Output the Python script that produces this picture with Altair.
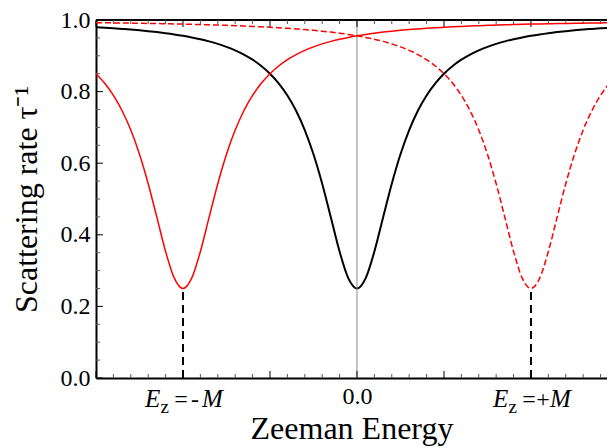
import altair as alt
import pandas as pd

FONT = "Liberation Serif"

# ---------------- data ----------------
zeeman_energy = [
    -1.5, -1.45, -1.4, -1.35, -1.3, -1.25, -1.2, -1.15, -1.1, -1.05,
    -1.0, -0.95, -0.9, -0.85, -0.8, -0.75, -0.7, -0.65, -0.6, -0.55,
    -0.5, -0.45, -0.4, -0.35, -0.3, -0.25, -0.2, -0.15, -0.1, -0.05,
    0.0, 0.05, 0.1, 0.15, 0.2, 0.25, 0.3, 0.35, 0.4, 0.45,
    0.5, 0.55, 0.6, 0.65, 0.7, 0.75, 0.8, 0.85, 0.9, 0.95,
    1.0, 1.05, 1.1, 1.15, 1.2, 1.25, 1.3, 1.35, 1.4, 1.45, 1.5,
]

rate_black = [
    0.9797, 0.9783, 0.9768, 0.9751, 0.9733, 0.9712, 0.9688, 0.9662, 0.9632, 0.9598,
    0.9559, 0.9514, 0.9463, 0.9403, 0.9333, 0.925, 0.9152, 0.9034, 0.8891, 0.8716,
    0.85, 0.8231, 0.7893, 0.7466, 0.6926, 0.625, 0.5427, 0.4485, 0.3534, 0.2788,
    0.25,
    0.2788, 0.3534, 0.4485, 0.5427, 0.625, 0.6926, 0.7466, 0.7893, 0.8231, 0.85,
    0.8716, 0.8891, 0.9034, 0.9152, 0.925, 0.9333, 0.9403, 0.9463, 0.9514, 0.9559,
    0.9598, 0.9632, 0.9662, 0.9688, 0.9712, 0.9733, 0.9751, 0.9768, 0.9783, 0.9797,
]

rate_red_solid = [
    0.85, 0.8231, 0.7893, 0.7466, 0.6926, 0.625, 0.5427, 0.4485, 0.3534, 0.2788,
    0.25,
    0.2788, 0.3534, 0.4485, 0.5427, 0.625, 0.6926, 0.7466, 0.7893, 0.8231, 0.85,
    0.8716, 0.8891, 0.9034, 0.9152, 0.925, 0.9333, 0.9403, 0.9463, 0.9514, 0.9559,
    0.9598, 0.9632, 0.9662, 0.9688, 0.9712, 0.9733, 0.9751, 0.9768, 0.9783, 0.9797,
    0.9810, 0.9821, 0.9832, 0.9841, 0.9850, 0.9858, 0.9866, 0.9872, 0.9879, 0.9885,
    0.9890, 0.9895, 0.9900, 0.9904, 0.9909, 0.9912, 0.9916, 0.9919, 0.9923, 0.9926,
]

rate_red_dashed = [
    0.9926, 0.9923, 0.9919, 0.9916, 0.9912, 0.9909, 0.9904, 0.9900, 0.9895, 0.9890,
    0.9885, 0.9879, 0.9872, 0.9866, 0.9858, 0.9850, 0.9841, 0.9832, 0.9821, 0.9810,
    0.9797, 0.9783, 0.9768, 0.9751, 0.9733, 0.9712, 0.9688, 0.9662, 0.9632, 0.9598,
    0.9559, 0.9514, 0.9463, 0.9403, 0.9333, 0.925, 0.9152, 0.9034, 0.8891, 0.8716,
    0.85, 0.8231, 0.7893, 0.7466, 0.6926, 0.625, 0.5427, 0.4485, 0.3534, 0.2788,
    0.25,
    0.2788, 0.3534, 0.4485, 0.5427, 0.625, 0.6926, 0.7466, 0.7893, 0.8231, 0.85,
]

dip_energy = [-1.0, 1.0]
dip_rate = [0.25, 0.25]
dip_floor = [0.0, 0.0]
dip_sign = ["-", "+"]

x_label_values = [0.0]
x_major = [-1.5, -1.0, -0.5, 0.0, 0.5, 1.0]
x_minor = [-1.4, -1.3, -1.2, -1.1, -0.9, -0.8, -0.7, -0.6, -0.4, -0.3, -0.2, -0.1,
           0.1, 0.2, 0.3, 0.4, 0.6, 0.7, 0.8, 0.9, 1.1, 1.2, 1.3, 1.4]
y_major = [0.0, 0.2, 0.4, 0.6, 0.8, 1.0]
y_minor = [0.05, 0.1, 0.15, 0.25, 0.3, 0.35, 0.45, 0.5, 0.55, 0.65, 0.7, 0.75,
           0.85, 0.9, 0.95]

# ---------------- chart ----------------
W, H = 511, 358
X_DOMAIN = [-1.5, 1.437]
xs = alt.Scale(domain=X_DOMAIN, nice=False, zero=False)
ys = alt.Scale(domain=[0, 1], nice=False, zero=False)

curves = pd.DataFrame({"E": zeeman_energy, "black": rate_black,
                       "red": rate_red_solid, "reddash": rate_red_dashed})
dips = pd.DataFrame({"E": dip_energy, "rate": dip_rate, "floor": dip_floor, "sign": dip_sign})
xmaj = pd.DataFrame({"t": x_major})
xmin = pd.DataFrame({"t": x_minor})
ymaj = pd.DataFrame({"t": y_major})
ymin = pd.DataFrame({"t": y_minor})
zero_line = pd.DataFrame({"E": [0.0]})

x_axis = alt.Axis(values=x_label_values, format=".1f", ticks=False, grid=False,
                  domain=True, domainColor="black", domainWidth=2,
                  labelFont=FONT, labelFontSize=24, labelPadding=6, labelColor="black",
                  title="Zeeman Energy", titleFont=FONT, titleFontSize=32,
                  titleFontWeight="normal", titleColor="black", titlePadding=5)
y_axis = alt.Axis(values=y_major, format=".1f", ticks=False, grid=False,
                  domain=True, domainColor="black", domainWidth=2,
                  labelFont=FONT, labelFontSize=24, labelPadding=6, labelColor="black",
                  title="Scattering rate τ⁻¹", titleFont=FONT, titleFontSize=32,
                  titleFontWeight="normal", titleColor="black", titlePadding=17)


def X(field):
    return alt.X(field, type="quantitative", scale=xs, axis=x_axis, title="Zeeman Energy")


def Y(field):
    return alt.Y(field, type="quantitative", scale=ys, axis=y_axis, title="Scattering rate τ⁻¹")


gray = alt.Chart(zero_line).mark_rule(color="#8c8c8c", strokeWidth=1).encode(
    x=X("E"), y=alt.value(0), y2=alt.value(H))

top_frame = alt.Chart(zero_line).mark_rule(color="black", strokeWidth=2).encode(
    x=alt.value(0), x2=alt.value(W), y=alt.value(0))

tick_layers = [
    alt.Chart(xmaj).mark_rule(color="black", strokeWidth=1).encode(x=X("t"), y=alt.value(H), y2=alt.value(H - 7)),
    alt.Chart(xmaj).mark_rule(color="black", strokeWidth=1).encode(x=X("t"), y=alt.value(0), y2=alt.value(7)),
    alt.Chart(xmin).mark_rule(color="#555555", strokeWidth=1).encode(x=X("t"), y=alt.value(H), y2=alt.value(H - 4)),
    alt.Chart(xmin).mark_rule(color="#555555", strokeWidth=1).encode(x=X("t"), y=alt.value(0), y2=alt.value(4)),
    alt.Chart(ymaj).mark_rule(color="black", strokeWidth=1).encode(y=Y("t"), x=alt.value(0), x2=alt.value(7)),
    alt.Chart(ymin).mark_rule(color="#555555", strokeWidth=1).encode(y=Y("t"), x=alt.value(0), x2=alt.value(4)),
]

black_line = alt.Chart(curves).mark_line(color="black", strokeWidth=2, interpolate="monotone", clip=True).encode(
    x=X("E"), y=Y("black"))
red_line = alt.Chart(curves).mark_line(color="#ff0000", strokeWidth=1.5, interpolate="monotone", clip=True).encode(
    x=X("E"), y=Y("red"))
red_dash = alt.Chart(curves).mark_line(color="#ff0000", strokeWidth=1.5, strokeDash=[6, 3],
                                       interpolate="monotone", clip=True).encode(
    x=X("E"), y=Y("reddash"))

dip_rules = alt.Chart(dips).mark_rule(color="black", strokeWidth=2, strokeDash=[8, 5]).encode(
    x=X("E"), y=Y("floor"), y2="rate")

base_txt = dict(font=FONT, color="black", baseline="alphabetic")
lab_E = alt.Chart(dips).mark_text(text="E", fontSize=25, fontStyle="italic", align="left", dx=-38, **base_txt).encode(
    x=X("E"), y=alt.value(H + 29))
lab_z = alt.Chart(dips).mark_text(text="z", fontSize=19, align="right", dx=-14, **base_txt).encode(
    x=X("E"), y=alt.value(H + 35))
lab_eq = alt.Chart(dips).mark_text(text="=", fontSize=24, align="center", dx=-2, **base_txt).encode(
    x=X("E"), y=alt.value(H + 29))
lab_sign = alt.Chart(dips).mark_text(fontSize=24, align="center", dx=12, **base_txt).encode(
    x=X("E"), y=alt.value(H + 29), text="sign:N")
lab_M = alt.Chart(dips).mark_text(text="M", fontSize=25, fontStyle="italic", align="left", dx=19, **base_txt).encode(
    x=X("E"), y=alt.value(H + 29))

chart = alt.layer(
    black_line, gray, top_frame, *tick_layers, red_line, red_dash, dip_rules,
    lab_E, lab_z, lab_eq, lab_sign, lab_M,
).properties(
    width=W, height=H,
    autosize=alt.AutoSizeParams(type="none"),
    padding={"left": 88, "top": 12, "right": 0, "bottom": 70},
).configure_view(stroke=None)

chart.save("out.html", embed_options={"renderer": "svg", "actions": False})
